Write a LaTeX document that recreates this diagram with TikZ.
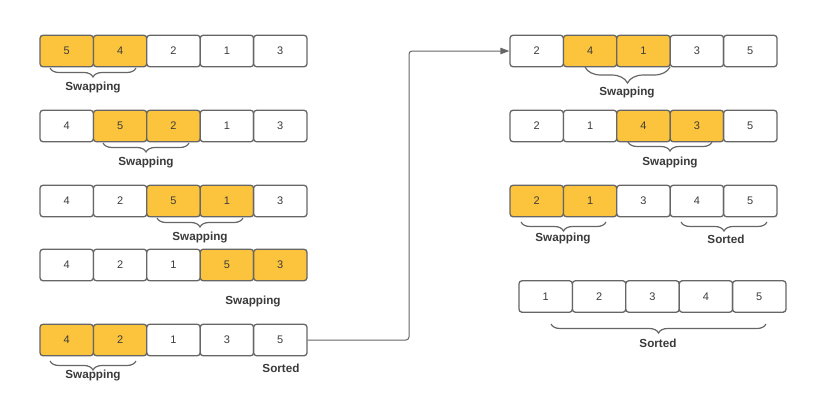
\documentclass[tikz,border=0pt]{standalone}
\usepackage{fontspec}
\setmainfont{Liberation Sans}
\usetikzlibrary{decorations.pathreplacing,arrows.meta}
\definecolor{gold}{HTML}{FCC43C}
\definecolor{linegray}{HTML}{666666}
\definecolor{numgray}{HTML}{3C3C3C}
\definecolor{labgray}{HTML}{3A3A3A}
\tikzset{
  cell/.style={draw=linegray, line width=1.3pt, rounded corners=3pt, minimum width=53.4pt, minimum height=31.5pt, inner sep=0pt, font=\fontsize{11}{13}\selectfont, text=numgray},
  lab/.style={font=\bfseries\fontsize{11.7}{14}\selectfont, text=labgray, inner sep=0pt},
  br/.style={draw=linegray, line width=1.2pt, decorate, decoration={brace, mirror, amplitude=#1}},
  br/.default=9pt,
  conn/.style={draw=linegray, line width=1pt, rounded corners=3pt, -{Triangle[length=9pt,width=6.5pt]}}
}
\newcommand\cellrow[4]{%
  \foreach \v/\f [count=\i] in {#4} {
    \node[cell, fill=\f] (#1\i) at ({#2+(\i-0.5)*53.4}, #3) {\v};
  }%
}
\begin{document}
\begin{tikzpicture}[x=1pt,y=1pt]
\useasboundingbox (0,0) rectangle (815,-400);
% left column
\cellrow{La}{40}{-51}{5/gold,4/gold,2/white,1/white,3/white}
\cellrow{Lb}{40}{-126}{4/white,5/gold,2/gold,1/white,3/white}
\cellrow{Lc}{40}{-201}{4/white,2/white,5/gold,1/gold,3/white}
\cellrow{Ld}{40}{-265}{4/white,2/white,1/white,5/gold,3/gold}
\cellrow{Le}{40}{-340}{4/gold,2/gold,1/white,3/white,5/white}
% right column
\cellrow{Ra}{510}{-51}{2/white,4/gold,1/gold,3/white,5/white}
\cellrow{Rb}{510}{-126}{2/white,1/white,4/gold,3/gold,5/white}
\cellrow{Rc}{510}{-201}{2/gold,1/gold,3/white,4/white,5/white}
\cellrow{Rd}{519}{-296.5}{1/white,2/white,3/white,4/white,5/white}
% braces and labels, left
\draw[br] (50,-68) -- (136,-68);
\node[lab] (sa) at (93,-87) {Swapping};
\draw[br] (103,-143) -- (189,-143);
\node[lab] (sb) at (146,-162) {Swapping};
\draw[br] (157,-218) -- (243,-218);
\node[lab] (sc) at (200,-237) {Swapping};
\node[lab] (sd) at (253,-301) {Swapping};
\draw[br] (50,-361) -- (136,-361);
\node[lab] (se) at (93,-375) {Swapping};
\node[lab] (so) at (281,-368) {Sorted};
% braces and labels, right
\draw[br=16pt] (585,-67) -- (670,-67);
\node[lab] (ta) at (627,-92) {Swapping};
\draw[br] (628,-142) -- (712,-142);
\node[lab] (tb) at (670,-162) {Swapping};
\draw[br] (521,-222) -- (606,-222);
\node[lab] (tc) at (563,-238) {Swapping};
\draw[br] (681,-222) -- (767,-222);
\node[lab] (tco) at (726,-239) {Sorted};
\draw[br] (551,-324) -- (766,-324);
\node[lab] (td) at (658,-343) {Sorted};
% connector
\coordinate (bend) at (409,-340);
\draw[conn] (Le5.east) -- (bend) |- (Ra1.west);
\end{tikzpicture}
\end{document}
